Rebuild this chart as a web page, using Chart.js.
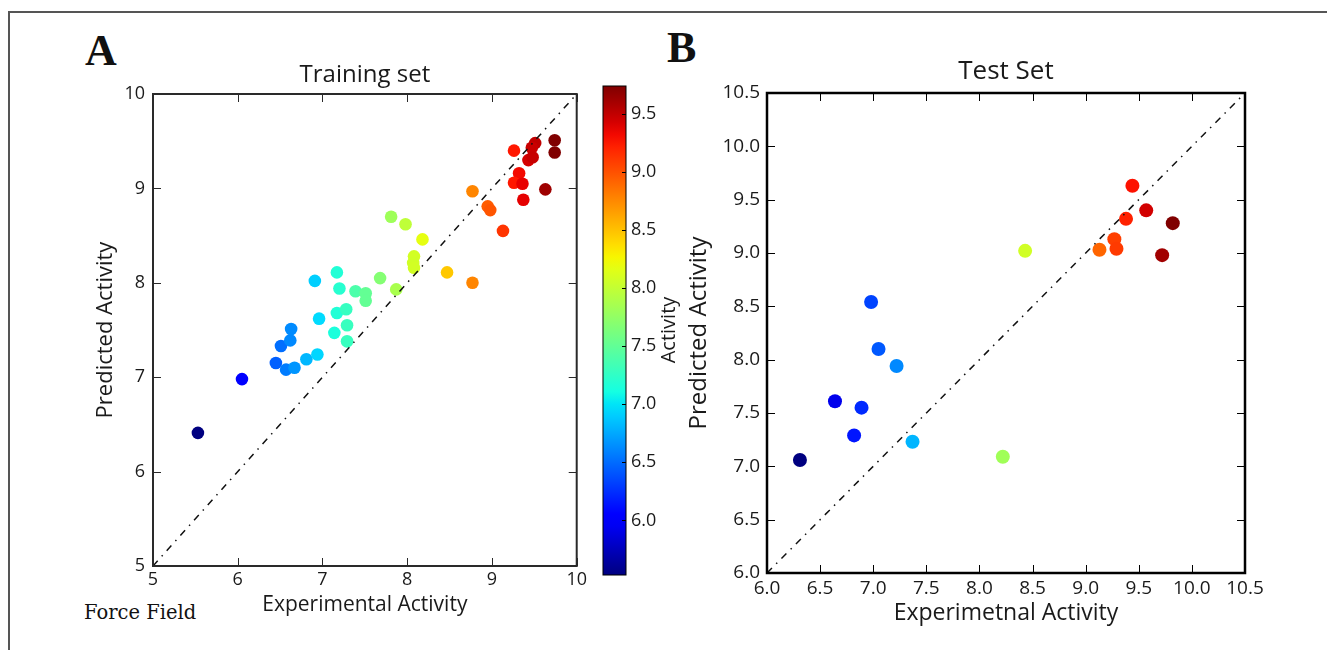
<!DOCTYPE html>
<html>
<head>
<meta charset="utf-8">
<script src="https://cdn.jsdelivr.net/npm/chart.js@4.4.1/dist/chart.umd.min.js"></script>
<style>
  body { margin: 0; background: #fff; }
  #page { position: relative; width: 1327px; height: 650px; overflow: hidden; background: #fff; }
  #frame { position: absolute; left: 8px; top: 11px; width: 1400px; height: 700px;
           border-top: 2px solid #555; border-left: 2px solid #555; }
  canvas { position: absolute; }
  .letter { position: absolute; font-family: "Liberation Serif", serif; font-weight: bold;
            font-size: 44px; line-height: 44px; color: #111; }
  #ff { position: absolute; left: 84px; top: 603px; font-family: "DejaVu Serif", serif;
        font-size: 19.5px; line-height: 20px; color: #111; }
</style>
</head>
<body>
<div id="page">
  <div id="frame"></div>
  <div class="letter" style="left:85px; top:29px;">A</div>
  <div class="letter" style="left:667px; top:26px;">B</div>
  <div id="ff">Force Field</div>
  <canvas id="chartA" width="530" height="590" style="left:60px; top:50px;"></canvas>
  <canvas id="cbar" width="100" height="590" style="left:590px; top:50px;"></canvas>
  <canvas id="chartB" width="600" height="590" style="left:680px; top:50px;"></canvas>
</div>
<script>
// training set (panel A)
const trainExp  = [5.53, 6.05, 6.45, 6.57, 6.67, 6.81, 6.94, 6.51, 6.62, 6.63, 6.96, 6.91,
                   7.14, 7.29, 7.29, 7.17, 7.28, 7.20, 7.17, 7.39, 7.51, 7.51, 7.68, 7.87,
                   7.81, 7.98, 8.18, 8.08, 8.07, 8.08, 8.47, 8.77, 8.77, 8.95, 8.98, 9.13,
                   9.26, 9.32, 9.26, 9.36, 9.37, 9.63, 9.51, 9.47, 9.43, 9.48, 9.74, 9.74];
const trainPred = [6.41, 6.98, 7.15, 7.08, 7.10, 7.19, 7.24, 7.33, 7.39, 7.51, 7.62, 8.02,
                   7.47, 7.38, 7.55, 7.68, 7.72, 7.94, 8.11, 7.91, 7.89, 7.81, 8.05, 7.93,
                   8.70, 8.62, 8.46, 8.28, 8.21, 8.16, 8.11, 8.00, 8.97, 8.81, 8.77, 8.55,
                   9.40, 9.16, 9.06, 9.05, 8.88, 8.99, 9.48, 9.43, 9.30, 9.33, 9.51, 9.38];

// test set (panel B)
const testExp  = [6.31, 6.64, 6.89, 6.82, 6.98, 7.05, 7.22, 7.37, 8.22, 8.43,
                  9.13, 9.27, 9.29, 9.38, 9.44, 9.57, 9.72, 9.82];
const testPred = [7.06, 7.61, 7.55, 7.29, 8.54, 8.10, 7.94, 7.23, 7.09, 9.02,
                  9.03, 9.13, 9.04, 9.32, 9.63, 9.40, 8.98, 9.28];

// axis ranges and ticks
const rangeA = [5, 10];
const rangeB = [6, 10.5];
const cbTicks = [6.0, 6.5, 7.0, 7.5, 8.0, 8.5, 9.0, 9.5];

const FONT = '"Open Sans", "DejaVu Sans", sans-serif';
const TXT = '#1a1a1a';

// matplotlib jet colormap
const JET = {
  r: [[0, 0], [0.35, 0], [0.66, 1], [0.89, 1], [1, 0.5]],
  g: [[0, 0], [0.125, 0], [0.375, 1], [0.64, 1], [0.91, 0], [1, 0]],
  b: [[0, 0.5], [0.11, 1], [0.34, 1], [0.65, 0], [1, 0]]
};
function seg(pts, t) {
  for (let i = 0; i < pts.length - 1; i++) {
    const [x0, y0] = pts[i], [x1, y1] = pts[i + 1];
    if (t <= x1) return y0 + (y1 - y0) * (t - x0) / (x1 - x0);
  }
  return pts[pts.length - 1][1];
}
function jet(t) {
  t = Math.max(0, Math.min(1, t));
  const c = k => Math.round(255 * seg(JET[k], t));
  return `rgb(${c('r')},${c('g')},${c('b')})`;
}

const cbMin = Math.min(...trainExp), cbMax = Math.max(...trainExp);
const tMin = Math.min(...testExp), tMax = Math.max(...testExp);
const colorsA = trainExp.map(v => jet((v - cbMin) / (cbMax - cbMin)));
const colorsB = testExp.map(v => jet((v - tMin) / (tMax - tMin)));

// frame + inward ticks, matplotlib style
const frameTicks = {
  id: 'frameTicks',
  afterDatasetsDraw(chart, args, o) {
    const { ctx, chartArea: { left, right, top, bottom }, scales } = chart;
    const len = o.len || 8;
    ctx.save();
    ctx.strokeStyle = o.color || '#222';
    ctx.lineWidth = 1;
    ctx.beginPath();
    if (o.xTicks !== false) {
      scales.x.ticks.forEach(t => {
        const p = Math.round(scales.x.getPixelForValue(t.value)) + 0.5;
        ctx.moveTo(p, bottom); ctx.lineTo(p, bottom - len);
        ctx.moveTo(p, top); ctx.lineTo(p, top + len);
      });
    }
    scales.y.ticks.forEach(t => {
      const p = Math.round(scales.y.getPixelForValue(t.value)) + 0.5;
      if (o.yLeft !== false) { ctx.moveTo(left, p); ctx.lineTo(left + len, p); }
      ctx.moveTo(right, p); ctx.lineTo(right - len, p);
    });
    ctx.stroke();
    ctx.lineWidth = o.frameWidth || 2;
    ctx.strokeRect(left, top, right - left, bottom - top);
    ctx.restore();
  }
};

function panel(canvasId, o) {
  const pts = o.xs.map((x, i) => ({ x, y: o.ys[i] }));
  return new Chart(document.getElementById(canvasId), {
    type: 'scatter',
    data: {
      datasets: [
        { type: 'line', data: [{ x: o.range[0], y: o.range[0] }, { x: o.range[1], y: o.range[1] }],
          borderColor: '#111', borderWidth: 1.5, borderDash: [7, 6, 1.5, 6],
          pointRadius: 0, fill: false, order: 0 },
        { data: pts, pointRadius: o.radius, pointBackgroundColor: o.colors,
          pointBorderWidth: 0, order: 1 }
      ]
    },
    options: {
      responsive: false,
      animation: false,
      layout: { padding: { right: o.padRight } },
      plugins: {
        legend: { display: false },
        tooltip: { enabled: false },
        title: { display: true, text: o.title, fullSize: false, color: TXT,
                 font: { family: FONT, size: o.titleSize, weight: 'normal' },
                 padding: o.titlePad },
        frameTicks: { color: o.frameColor, frameWidth: o.frameWidth, len: 8 }
      },
      scales: {
        x: {
          type: 'linear', min: o.range[0], max: o.range[1],
          grid: { display: false, drawTicks: false }, border: { display: false },
          ticks: { stepSize: o.step, autoSkip: false, maxRotation: 0, padding: o.xTickPad,
                   color: TXT, font: { family: FONT, size: o.tickSize }, callback: o.fmt },
          title: { display: true, text: o.xLabel, color: TXT,
                   font: { family: FONT, size: o.xLabelSize }, padding: { top: 0, bottom: o.xTitlePad } },
          afterFit: s => { s.height = o.xHeight; }
        },
        y: {
          type: 'linear', min: o.range[0], max: o.range[1],
          grid: { display: false, drawTicks: false }, border: { display: false },
          ticks: { stepSize: o.step, autoSkip: false, padding: o.yTickPad,
                   color: TXT, font: { family: FONT, size: o.tickSize }, callback: o.fmt },
          title: { display: true, text: 'Predicted Activity', color: TXT,
                   font: { family: FONT, size: o.yLabelSize }, padding: { top: o.yTitlePad, bottom: 0 } },
          afterFit: s => { s.width = o.yWidth; }
        }
      }
    },
    plugins: [frameTicks]
  });
}

panel('chartA', {
  xs: trainExp, ys: trainPred, colors: colorsA, radius: 6.3, range: rangeA, step: 1,
  fmt: v => String(v), title: 'Training set', titleSize: 24, titlePad: { top: 10.6, bottom: 4.6 },
  xLabel: 'Experimental Activity', padRight: 13, xHeight: 74, yWidth: 93,
  xTickPad: 3, yTickPad: 8, xTitlePad: 22.4, yTitlePad: 32.8,
  tickSize: 18, xLabelSize: 21, yLabelSize: 22, frameColor: '#2a2a2a', frameWidth: 2
});

panel('chartB', {
  xs: testExp, ys: testPred, colors: colorsB, radius: 7, range: rangeB, step: 0.5,
  fmt: v => v.toFixed(1), title: 'Test Set', titleSize: 26, titlePad: { top: 6.4, bottom: 5.4 },
  xLabel: 'Experimetnal Activity', padRight: 35, xHeight: 67, yWidth: 87,
  xTickPad: 4, yTickPad: 7, xTitlePad: 13.2, yTitlePad: 4.6,
  tickSize: 19, xLabelSize: 23, yLabelSize: 24, frameColor: '#000', frameWidth: 2.5
});

// colour bar for panel A
const jetBar = {
  id: 'jetBar',
  beforeDatasetsDraw(chart) {
    const { ctx, chartArea: { left, right, top, bottom }, scales: { y } } = chart;
    const g = ctx.createLinearGradient(0, y.getPixelForValue(cbMin), 0, y.getPixelForValue(cbMax));
    for (let i = 0; i <= 40; i++) g.addColorStop(i / 40, jet(i / 40));
    ctx.save();
    ctx.fillStyle = g;
    ctx.fillRect(left, top, right - left, bottom - top);
    ctx.restore();
  },
  afterDraw(chart) {
    const { ctx } = chart;
    ctx.save();
    ctx.translate(79, 280);
    ctx.rotate(-Math.PI / 2);
    ctx.fillStyle = TXT;
    ctx.font = '20px ' + FONT;
    ctx.textAlign = 'center';
    ctx.textBaseline = 'middle';
    ctx.fillText('Activity', 0, 0);
    ctx.restore();
  }
};

new Chart(document.getElementById('cbar'), {
  type: 'scatter',
  data: { datasets: [] },
  options: {
    responsive: false,
    animation: false,
    layout: { padding: { left: 13, top: 36, bottom: 65 } },
    plugins: {
      legend: { display: false }, tooltip: { enabled: false },
      frameTicks: { color: '#000', frameWidth: 1, len: 4, xTicks: false, yLeft: false }
    },
    scales: {
      x: { display: false, min: 0, max: 1 },
      y: {
        position: 'right', min: cbMin, max: cbMax,
        grid: { display: false, drawTicks: false }, border: { display: false },
        afterBuildTicks: s => { s.ticks = cbTicks.map(v => ({ value: v })); },
        ticks: { padding: 5, color: TXT, font: { family: FONT, size: 18 }, callback: v => v.toFixed(1) },
        afterFit: s => { s.width = 64; }
      }
    }
  },
  plugins: [jetBar, frameTicks]
});
</script>
</body>
</html>
